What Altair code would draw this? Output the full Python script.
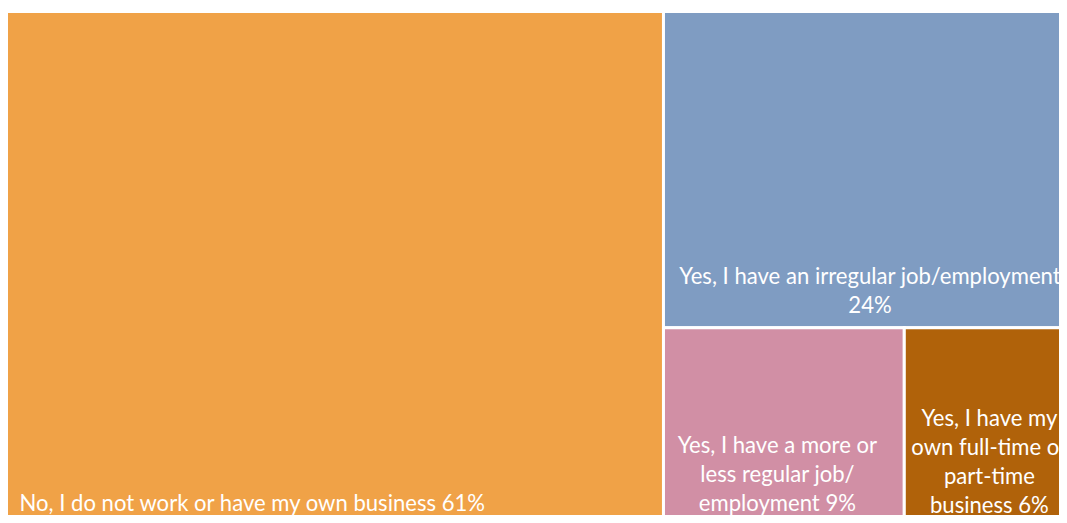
import altair as alt
import pandas as pd

categories = [
    "No, I do not work or have my own business",
    "Yes, I have an irregular job/employment",
    "Yes, I have a more or less regular job/employment",
    "Yes, I have my own full-time or part-time business",
]
values = [61.0, 24.0, 8.6, 6.4]
labels = [
    "No, I do not work or have my own business 61%",
    "Yes, I have an irregular job/employment\n24%",
    "Yes, I have a more or\nless regular job/\nemployment 9%",
    "Yes, I have my\nown full-time or\npart-time\nbusiness 6%",
]
colors = ["#F0A247", "#7F9CC2", "#D18FA5", "#B0620A"]

# label styling (alignment, pixel nudges) per cell
label_align = ["left", "center", "center", "center"]
label_dx = [13, -3.5, -6.5, -4.5]
label_pad = [15, 15, 15, 12.5]


def layout(vals):
    """Treemap: first cell a full-height column, second the top of the rest,
    remaining cells split the bottom row side by side (unit square)."""
    rects = []
    total = sum(vals)
    xm = vals[0] / total
    rects.append((0, 0, xm, 1))
    rest_total = sum(vals[1:])
    ym = vals[1] / rest_total
    rects.append((xm, 0, 1, ym))
    bottom_total = sum(vals[2:])
    cx = xm
    for v in vals[2:]:
        w = (1 - xm) * v / bottom_total
        rects.append((cx, ym, cx + w, 1))
        cx += w
    return rects


rects = layout(values)
df = pd.DataFrame({
    "category": categories,
    "value": values,
    "label": labels,
    "x0": [r[0] for r in rects],
    "y0": [r[1] for r in rects],
    "x1": [r[2] for r in rects],
    "y1": [r[3] for r in rects],
})
df["xc"] = (df["x0"] + df["x1"]) / 2

# plot area (fits the page) and the full treemap size it is cropped from
PW, PH = 1051, 502
LW, LH = 1077, 514
off = 1.5
xs = alt.Scale(domain=[off / LW, (PW + off) / LW], nice=False, zero=False)
ys = alt.Scale(domain=[off / LH, (PH + off) / LH], nice=False, zero=False, reverse=True)

base = alt.Chart(df)

rect = base.mark_rect(stroke="white", strokeWidth=3, clip=True).encode(
    x=alt.X("x0:Q", scale=xs, axis=None),
    x2="x1:Q",
    y=alt.Y("y0:Q", scale=ys, axis=None),
    y2="y1:Q",
    color=alt.Color("category:N", scale=alt.Scale(domain=categories, range=colors), legend=None),
)

font = "Lato"
fs = 22.1
lh = 29

layers = [rect]
for i, cat in enumerate(categories):
    n_lines = labels[i].count("\n") + 1
    xfield = "x0:Q" if label_align[i] == "left" else "xc:Q"
    t = base.transform_filter(alt.datum.category == cat).mark_text(
        align=label_align[i], baseline="alphabetic",
        dx=label_dx[i], dy=-label_pad[i] - (n_lines - 1) * lh,
        font=font, fontSize=fs, color="white", lineBreak="\n", lineHeight=lh,
        clip=True,
    ).encode(x=alt.X(xfield, scale=xs), y=alt.Y("y1:Q", scale=ys), text="label:N")
    layers.append(t)

chart = alt.layer(*layers).properties(
    width=PW, height=PH,
    autosize=alt.AutoSizeParams(type="none"),
    padding={"left": 0, "top": 5, "right": 0, "bottom": 0},
).configure_view(strokeWidth=0)

chart.save("out.html", embed_options={"renderer": "svg", "actions": False})
